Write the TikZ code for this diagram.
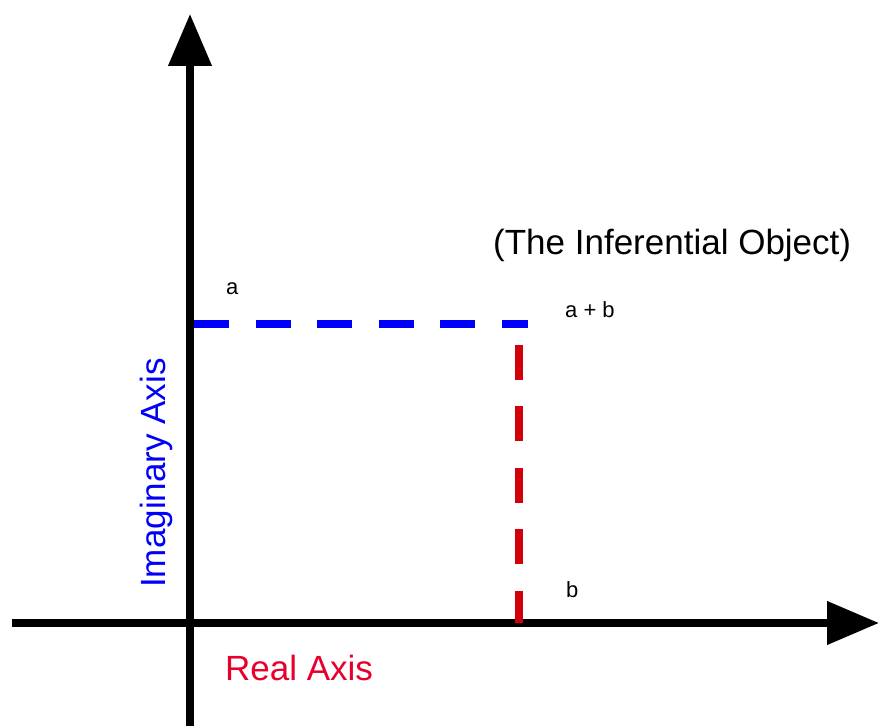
\documentclass[tikz,border=0pt]{standalone}
\usepackage{fontspec}
\setmainfont{Liberation Sans}
\usetikzlibrary{arrows.meta}
\definecolor{imagblue}{RGB}{0,0,250}
\definecolor{realred}{RGB}{210,0,10}
\definecolor{labelred}{RGB}{232,0,45}

\begin{document}
\begin{tikzpicture}[x=1pt,y=1pt,
  axis/.style={line width=7.5pt,-{Triangle[width=42pt,length=52pt]}},
  guide/.style={line width=8pt,dash pattern=on 35pt off 26.5pt},
  small/.style={font=\fontsize{22}{26}\selectfont,anchor=base west,inner sep=0pt},
  big/.style={font=\fontsize{35}{40}\selectfont,anchor=base west,inner sep=0pt}]
\useasboundingbox (0,0) rectangle (879,726);
\coordinate (ybot) at (190,0); \coordinate (ytop) at (190,712);
\coordinate (xleft) at (12,103); \coordinate (xright) at (879,103);
\coordinate (ai) at (194,402); \coordinate (ab) at (528,402);
\coordinate (bt) at (519,381); \coordinate (b0) at (519,103);
\draw[axis] (ybot) -- (ytop);
\draw[axis] (xleft) -- (xright);
\draw[guide,imagblue] (ai) -- (ab);
\draw[guide,realred] (bt) -- (b0);
\node[big] (obj) at (493,471) {(The Inferential Object)};
\node[small] (la) at (226,431) {a};
\node[small] (lab) at (565,408) {a + b};
\node[small] (lb) at (566,128) {b};
\node[big,imagblue,rotate=90] (imag) at (165,138) {Imaginary Axis};
\node[big,labelred] (real) at (225,45) {Real Axis};
\end{tikzpicture}
\end{document}
